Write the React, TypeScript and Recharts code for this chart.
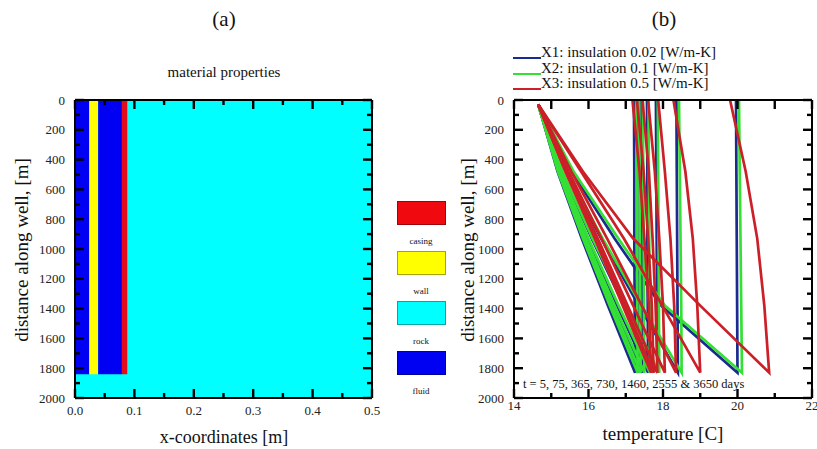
import { ComposedChart, Line, Scatter, XAxis, YAxis, ReferenceArea } from 'recharts';

const SERIF = '"Liberation Serif", "DejaVu Serif", serif';
const INK = '#000';

// ---- panel (a): material map ----
const legendNames = ['casing', 'wall', 'rock', 'fluid'];
const legendColors = ['#f00a10', '#ffff00', '#00ffff', '#0000f2'];

const blockColors = ['#00ffff', '#0000f2', '#ffff00', '#0000f2', '#e20c1c'];
const blockX0 = [0, 0, 0.024, 0.039, 0.079];
const blockX1 = [0.5, 0.024, 0.039, 0.079, 0.088];
const blockD0 = [0, 0, 0, 0, 0];
const blockD1 = [2000, 1840, 1840, 1840, 1840];

const xTicksA = [0, 0.05, 0.1, 0.15, 0.2, 0.25, 0.3, 0.35, 0.4, 0.45, 0.5];
const depthTicks = [0, 100, 200, 300, 400, 500, 600, 700, 800, 900, 1000, 1100, 1200, 1300, 1400, 1500, 1600, 1700, 1800, 1900, 2000];

// ---- panel (b): temperature profiles ----
const tempTicks = [14, 15, 16, 17, 18, 19, 20, 21, 22];
const seriesNames = ['X1: insulation 0.02 [W/m-K]', 'X2: insulation 0.1 [W/m-K]', 'X3: insulation 0.5 [W/m-K]'];
const seriesColors = ['#1b2a8e', '#35e035', '#cc2028'];

// times: 5, 75, 365, 730, 1460, 2555, 3650 days
const downDepths = [30, 480, 930, 1380, 1830];
const upDepths = [1830, 1380, 930, 480, 0];

const x1Down = [
  [14.65, 15.55, 16.7, 17.95, 20.0],
  [14.65, 15.4, 16.34, 17.35, 18.4],
  [14.65, 15.29, 16.09, 16.95, 17.85],
  [14.65, 15.24, 15.98, 16.77, 17.6],
  [14.65, 15.21, 15.91, 16.67, 17.45],
  [14.65, 15.19, 15.86, 16.58, 17.33],
  [14.65, 15.17, 15.82, 16.52, 17.25],
];
const x1Up = [
  [20.0, 19.99, 19.98, 19.97, 19.96],
  [18.4, 18.39, 18.38, 18.37, 18.36],
  [17.85, 17.84, 17.83, 17.82, 17.81],
  [17.6, 17.59, 17.58, 17.58, 17.57],
  [17.45, 17.44, 17.43, 17.43, 17.42],
  [17.33, 17.32, 17.31, 17.31, 17.3],
  [17.25, 17.24, 17.23, 17.23, 17.22],
];
const x2Down = [
  [14.65, 15.6, 16.8, 18.05, 20.12],
  [14.65, 15.42, 16.38, 17.42, 18.5],
  [14.65, 15.3, 16.11, 16.99, 17.9],
  [14.65, 15.25, 16.0, 16.81, 17.65],
  [14.65, 15.22, 15.93, 16.7, 17.5],
  [14.65, 15.2, 15.89, 16.63, 17.4],
  [14.65, 15.18, 15.85, 16.57, 17.32],
];
const x2Up = [
  [20.12, 20.1, 20.08, 20.06, 20.04],
  [18.5, 18.49, 18.47, 18.45, 18.43],
  [17.9, 17.89, 17.88, 17.87, 17.86],
  [17.65, 17.64, 17.63, 17.62, 17.61],
  [17.5, 17.49, 17.48, 17.47, 17.46],
  [17.4, 17.39, 17.38, 17.37, 17.36],
  [17.32, 17.31, 17.3, 17.29, 17.28],
];
const x3Down = [
  [14.65, 15.85, 17.2, 19.0, 20.85],
  [14.65, 15.8, 16.95, 17.98, 19.0],
  [14.65, 15.54, 16.5, 17.43, 18.35],
  [14.65, 15.47, 16.35, 17.2, 18.05],
  [14.65, 15.42, 16.25, 17.05, 17.85],
  [14.65, 15.39, 16.2, 16.98, 17.75],
  [14.65, 15.38, 16.17, 16.92, 17.68],
];
const x3Up = [
  [20.85, 20.72, 20.53, 20.22, 19.8],
  [19.0, 18.92, 18.8, 18.6, 18.28],
  [18.35, 18.3, 18.2, 18.05, 17.87],
  [18.05, 18.0, 17.9, 17.78, 17.6],
  [17.85, 17.8, 17.72, 17.62, 17.45],
  [17.75, 17.7, 17.6, 17.48, 17.3],
  [17.68, 17.62, 17.5, 17.37, 17.18],
];

const groups = [
  { down: x1Down, up: x1Up },
  { down: x2Down, up: x2Up },
  { down: x3Down, up: x3Up },
];

const toLoop = (down: number[], up: number[]) => [
  ...down.map((t, i) => ({ t, d: downDepths[i] })),
  ...up.slice(1).map((t, i) => ({ t, d: upDepths[i + 1] })),
];

type Side = 'left' | 'right' | 'top' | 'bottom';

const depthMajor = (v: number) => v % 200 === 0;
const xMajorA = (v: number) => Math.round(v * 100) % 10 === 0;
const tempMajor = (v: number) => v % 2 === 0;

// inward tick marks along the frame, placed through the chart scales
const frameMarks = (xDomain: number[], xTicks: number[], xMajor: (v: number) => boolean, topAllMajor: boolean) => [
  ...depthTicks.map((d) => ({ t: xDomain[0], d, side: 'left' as Side, major: depthMajor(d) })),
  ...depthTicks.map((d) => ({ t: xDomain[1], d, side: 'right' as Side, major: depthMajor(d) })),
  ...xTicks.map((t) => ({ t, d: 2000, side: 'bottom' as Side, major: xMajor(t) })),
  ...xTicks.map((t) => ({ t, d: 0, side: 'top' as Side, major: topAllMajor || xMajor(t) })),
];

const TickMark = (props: any) => {
  const cx = Number(props.cx);
  const cy = Number(props.cy);
  const info = props.payload ?? props;
  const len = info.major ? 9 : 5;
  const side: Side = info.side;
  const w = 2.4;
  if (side === 'left' || side === 'right') {
    const x0 = side === 'left' ? cx : cx - len;
    return <rect x={x0} y={cy - w / 2} width={len} height={w} fill={INK} />;
  }
  const y0 = side === 'top' ? cy : cy - len;
  return <rect x={cx - w / 2} y={y0} width={w} height={len} fill={INK} />;
};

const edgeLabel =
  (side: 'left' | 'bottom', isMajor: (v: number) => boolean, fmt: (v: number) => string, gap: number) =>
  (props: any) => {
    const v = props.payload.value as number;
    if (!isMajor(v)) return <g />;
    const x = Number(props.x);
    const y = Number(props.y);
    return side === 'left' ? (
      <text x={x - gap} y={y} dy="0.35em" textAnchor="end" fontFamily={SERIF} fontSize={13} fill="#222">
        {fmt(v)}
      </text>
    ) : (
      <text x={x} y={y + gap} dy="0.71em" textAnchor="middle" fontFamily={SERIF} fontSize={13} fill="#222">
        {fmt(v)}
      </text>
    );
  };

const axisLine = { stroke: INK, strokeWidth: 2 };

const abs = (left: number, top: number, extra: any = {}) => ({
  position: 'absolute' as const,
  left,
  top,
  fontFamily: SERIF,
  color: '#111',
  whiteSpace: 'nowrap' as const,
  ...extra,
});

const centered = (cx: number, cy: number, size: number) =>
  abs(cx, cy, { fontSize: size, transform: 'translate(-50%, -50%)' });

const vertical = (cx: number, cy: number, size: number) =>
  abs(cx, cy, { fontSize: size, transform: 'translate(-50%, -50%) rotate(-90deg)' });

const frameAxes = (
  xDomain: number[],
  xTicks: number[],
  xMajor: (v: number) => boolean,
  xFmt: (v: number) => string,
  xGap: number,
  leftWidth: number
) => [
  <XAxis
    key="xb"
    xAxisId={0}
    dataKey="t"
    type="number"
    domain={xDomain}
    ticks={xTicks}
    interval={0}
    height={51}
    tickSize={0}
    tickMargin={0}
    tickLine={false}
    axisLine={axisLine}
    tick={edgeLabel('bottom', xMajor, xFmt, xGap)}
  />,
  <XAxis key="xt" xAxisId="top" orientation="top" type="number" domain={xDomain} height={1} tick={false} tickLine={false} axisLine={axisLine} />,
  <YAxis
    key="yl"
    yAxisId={0}
    dataKey="d"
    type="number"
    reversed
    domain={[0, 2000]}
    ticks={depthTicks}
    interval={0}
    width={leftWidth}
    tickSize={0}
    tickMargin={0}
    tickLine={false}
    axisLine={axisLine}
    tick={edgeLabel('left', depthMajor, (v) => String(v), 10)}
  />,
  <YAxis key="yr" yAxisId="right" orientation="right" type="number" reversed domain={[0, 2000]} width={1} tick={false} tickLine={false} axisLine={axisLine} />,
];

const MaterialPanel = () => (
  <ComposedChart width={390} height={449} margin={{ top: 99, right: 17, bottom: 0, left: 0 }}>
    {blockColors.map((c, i) => (
      <ReferenceArea
        key={`blk-${i}`}
        x1={blockX0[i]}
        x2={blockX1[i]}
        y1={blockD0[i]}
        y2={blockD1[i]}
        fill={c}
        fillOpacity={1}
        stroke="none"
      />
    ))}
    {frameAxes([0, 0.5], xTicksA, xMajorA, (v) => v.toFixed(1), 8, 75)}
    <Scatter
      data={frameMarks([0, 0.5], xTicksA, xMajorA, false)}
      dataKey="d"
      fill={INK}
      shape={TickMark}
      legendType="none"
      isAnimationActive={false}
    />
  </ComposedChart>
);

const TemperaturePanel = () => (
  <ComposedChart width={377} height={449} margin={{ top: 99, right: 4, bottom: 0, left: 0 }}>
    {frameAxes([14, 22], tempTicks, tempMajor, (v) => String(v), 3, 74)}
    {groups.map((g, gi) =>
      g.down.map((down, ti) => (
        <Line
          key={`s${gi}-${ti}`}
          data={toLoop(down, g.up[ti])}
          dataKey="d"
          type="linear"
          stroke={seriesColors[gi]}
          strokeWidth={2.7}
          dot={false}
          activeDot={false}
          isAnimationActive={false}
        />
      ))
    )}
    <Scatter
      data={frameMarks([14, 22], tempTicks, tempMajor, true)}
      dataKey="d"
      fill={INK}
      shape={TickMark}
      legendType="none"
      isAnimationActive={false}
    />
  </ComposedChart>
);

const App = () => (
  <div style={{ position: 'absolute', left: 0, top: 0, width: 817, height: 449, background: '#fff', overflow: 'hidden' }}>
    <div style={abs(0, 0)}>
      <MaterialPanel />
    </div>
    <div style={abs(440, 0)}>
      <TemperaturePanel />
    </div>

    <div style={centered(224, 19, 21)}>(a)</div>
    <div style={centered(664, 19, 21)}>(b)</div>
    <div style={centered(224, 72, 15)}>material properties</div>
    <div style={vertical(22, 250, 19)}>distance along well, [m]</div>
    <div style={vertical(468, 250, 19)}>distance along well, [m]</div>
    <div style={centered(224, 437, 18)}>x-coordinates [m]</div>
    <div style={centered(663, 434, 19)}>temperature [C]</div>
    <div style={abs(523, 377, { fontSize: 12.5 })}>t = 5, 75, 365, 730, 1460, 2555 &amp; 3650 days</div>

    {legendNames.map((n, i) => (
      <div key={n}>
        <div
          style={abs(397, 201 + i * 50, {
            width: 49,
            height: 24,
            background: legendColors[i],
            boxSizing: 'border-box',
            border: '1px solid rgba(0,0,0,0.35)',
          })}
        />
        <div style={centered(421, 241 + i * 50, 9)}>{n}</div>
      </div>
    ))}

    {seriesNames.map((n, i) => (
      <div key={n} style={abs(513, 45 + i * 15.5, { display: 'flex', alignItems: 'flex-end', fontSize: 15, lineHeight: '15px' })}>
        <span style={{ display: 'inline-block', width: 28, height: 0, borderTop: `2.5px solid ${seriesColors[i]}`, marginBottom: 1 }} />
        <span>{n}</span>
      </div>
    ))}
  </div>
);

export default App;
